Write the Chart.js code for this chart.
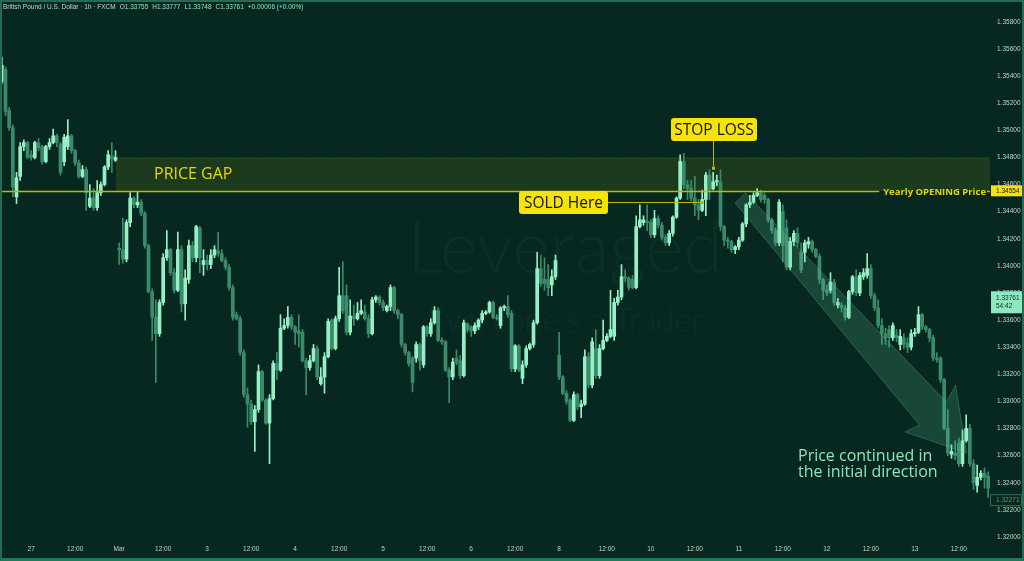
<!DOCTYPE html>
<html>
<head>
<meta charset="utf-8">
<script src="https://cdn.jsdelivr.net/npm/chart.js@4.4.1/dist/chart.umd.min.js"></script>
<style>
    html, body { margin: 0; padding: 0; background: #062820; }
    #wrap { position: relative; width: 1024px; height: 561px; overflow: hidden; }
    #frame {
        position: absolute; left: 0; top: 0; right: 0; bottom: 0;
        box-sizing: border-box; pointer-events: none;
        border: 2px solid #236b52; border-bottom: 3px solid #1f7a56;
    }
</style>
</head>
<body>
<div id="wrap">
    <canvas id="priceChart" width="1024" height="561"></canvas>
    <div id="frame"></div>
</div>
<script>
// GBPUSD 1h candles
const opens = [
    1.3536, 1.3545, 1.3515, 1.3502, 1.3451, 1.3466, 1.3488, 1.3491, 1.3482, 1.3480,
    1.3491, 1.3488, 1.3477, 1.3488, 1.3491, 1.3496, 1.3490, 1.3477, 1.3488, 1.3496,
    1.3485, 1.3476, 1.3466, 1.3471, 1.3444, 1.3450, 1.3443, 1.3454, 1.3460, 1.3473,
    1.3481, 1.3478, 1.3413, 1.3412, 1.3405, 1.3432, 1.3450, 1.3445, 1.3447, 1.3439,
    1.3415, 1.3381, 1.3362, 1.3350, 1.3373, 1.3406, 1.3412, 1.3395, 1.3382, 1.3412,
    1.3372, 1.3390, 1.3415, 1.3406, 1.3428, 1.3401, 1.3404, 1.3401, 1.3408, 1.3411,
    1.3409, 1.3404, 1.3399, 1.3384, 1.3364, 1.3361, 1.3336, 1.3305, 1.3298, 1.3285,
    1.3294, 1.3322, 1.3301, 1.3284, 1.3302, 1.3328, 1.3323, 1.3354, 1.3356, 1.3362,
    1.3355, 1.3352, 1.3351, 1.3330, 1.3325, 1.3330, 1.3339, 1.3313, 1.3318, 1.3333,
    1.3360, 1.3339, 1.3361, 1.3378, 1.3378, 1.3351, 1.3363, 1.3361, 1.3365, 1.3366,
    1.3361, 1.3350, 1.3375, 1.3377, 1.3373, 1.3367, 1.3370, 1.3384, 1.3367, 1.3364,
    1.3342, 1.3336, 1.3332, 1.3332, 1.3342, 1.3327, 1.3355, 1.3350, 1.3358, 1.3367,
    1.3345, 1.3344, 1.3323, 1.3318, 1.3332, 1.3330, 1.3319, 1.3357, 1.3355, 1.3352,
    1.3355, 1.3360, 1.3365, 1.3366, 1.3373, 1.3362, 1.3356, 1.3369, 1.3370, 1.3365,
    1.3324, 1.3341, 1.3317, 1.3327, 1.3339, 1.3342, 1.3358, 1.3398, 1.3390, 1.3390,
    1.3386, 1.3392, 1.3334, 1.3318, 1.3306, 1.3301, 1.3286, 1.3305, 1.3296, 1.3298,
    1.3333, 1.3312, 1.3339, 1.3319, 1.3339, 1.3345, 1.3348, 1.3348, 1.3373, 1.3377,
    1.3392, 1.3391, 1.3390, 1.3384, 1.3429, 1.3432, 1.3433, 1.3432, 1.3423, 1.3435,
    1.3430, 1.3421, 1.3417, 1.3424, 1.3436, 1.3450, 1.3477, 1.3460, 1.3457, 1.3450,
    1.3445, 1.3441, 1.3449, 1.3467, 1.3457, 1.3462, 1.3462, 1.3429, 1.3419, 1.3418,
    1.3412, 1.3414, 1.3419, 1.3431, 1.3445, 1.3447, 1.3452, 1.3454, 1.3452, 1.3449,
    1.3434, 1.3426, 1.3417, 1.3440, 1.3428, 1.3399, 1.3418, 1.3424, 1.3410, 1.3410,
    1.3416, 1.3418, 1.3412, 1.3407, 1.3390, 1.3382, 1.3382, 1.3388, 1.3371, 1.3371,
    1.3369, 1.3362, 1.3381, 1.3392, 1.3380, 1.3392, 1.3393, 1.3398, 1.3378, 1.3369,
    1.3356, 1.3350, 1.3353, 1.3347, 1.3349, 1.3342, 1.3347, 1.3343, 1.3340, 1.3350,
    1.3351, 1.3364, 1.3355, 1.3353, 1.3347, 1.3332, 1.3332, 1.3316, 1.3280, 1.3261,
    1.3262, 1.3269, 1.3254, 1.3271, 1.3280, 1.3254, 1.3238, 1.3244, 1.3247, 1.3245
];
const highs = [
    1.3554, 1.3547, 1.3517, 1.3504, 1.3469, 1.3491, 1.3493, 1.3492, 1.3485, 1.3492,
    1.3494, 1.3489, 1.3489, 1.3494, 1.3501, 1.3497, 1.3491, 1.3497, 1.3508, 1.3497,
    1.3486, 1.3478, 1.3474, 1.3473, 1.3460, 1.3457, 1.3463, 1.3462, 1.3474, 1.3485,
    1.3491, 1.3485, 1.3417, 1.3435, 1.3434, 1.3454, 1.3451, 1.3455, 1.3449, 1.3440,
    1.3416, 1.3383, 1.3375, 1.3375, 1.3409, 1.3426, 1.3413, 1.3398, 1.3425, 1.3415,
    1.3397, 1.3419, 1.3418, 1.3430, 1.3429, 1.3412, 1.3408, 1.3412, 1.3415, 1.3425,
    1.3412, 1.3406, 1.3401, 1.3386, 1.3366, 1.3363, 1.3338, 1.3310, 1.3301, 1.3297,
    1.3327, 1.3323, 1.3302, 1.3305, 1.3330, 1.3336, 1.3364, 1.3361, 1.3370, 1.3364,
    1.3356, 1.3364, 1.3353, 1.3332, 1.3334, 1.3342, 1.3341, 1.3325, 1.3336, 1.3361,
    1.3361, 1.3363, 1.3399, 1.3403, 1.3386, 1.3375, 1.3371, 1.3373, 1.3375, 1.3371,
    1.3364, 1.3377, 1.3378, 1.3378, 1.3375, 1.3371, 1.3386, 1.3385, 1.3368, 1.3365,
    1.3343, 1.3337, 1.3333, 1.3344, 1.3343, 1.3356, 1.3356, 1.3361, 1.3370, 1.3369,
    1.3347, 1.3345, 1.3325, 1.3332, 1.3338, 1.3334, 1.3360, 1.3358, 1.3356, 1.3358,
    1.3361, 1.3367, 1.3367, 1.3374, 1.3374, 1.3364, 1.3370, 1.3371, 1.3378, 1.3367,
    1.3342, 1.3342, 1.3330, 1.3341, 1.3343, 1.3360, 1.3410, 1.3408, 1.3406, 1.3401,
    1.3397, 1.3408, 1.3351, 1.3319, 1.3308, 1.3302, 1.3307, 1.3306, 1.3301, 1.3338,
    1.3336, 1.3347, 1.3353, 1.3342, 1.3360, 1.3350, 1.3382, 1.3376, 1.3382, 1.3401,
    1.3397, 1.3392, 1.3393, 1.3437, 1.3445, 1.3437, 1.3445, 1.3434, 1.3441, 1.3437,
    1.3432, 1.3423, 1.3426, 1.3437, 1.3451, 1.3482, 1.3483, 1.3463, 1.3463, 1.3466,
    1.3449, 1.3456, 1.3469, 1.3471, 1.3469, 1.3467, 1.3471, 1.3430, 1.3421, 1.3419,
    1.3415, 1.3421, 1.3432, 1.3446, 1.3452, 1.3454, 1.3457, 1.3456, 1.3454, 1.3450,
    1.3435, 1.3428, 1.3449, 1.3445, 1.3434, 1.3421, 1.3426, 1.3428, 1.3417, 1.3419,
    1.3421, 1.3419, 1.3413, 1.3409, 1.3391, 1.3386, 1.3395, 1.3390, 1.3376, 1.3373,
    1.3371, 1.3382, 1.3393, 1.3397, 1.3395, 1.3398, 1.3409, 1.3401, 1.3380, 1.3375,
    1.3361, 1.3354, 1.3356, 1.3358, 1.3353, 1.3353, 1.3350, 1.3347, 1.3353, 1.3354,
    1.3370, 1.3365, 1.3356, 1.3354, 1.3349, 1.3336, 1.3333, 1.3317, 1.3294, 1.3268,
    1.3271, 1.3273, 1.3279, 1.3290, 1.3283, 1.3257, 1.3253, 1.3249, 1.3251, 1.3248
];
const lows = [
    1.3534, 1.3511, 1.3500, 1.3451, 1.3446, 1.3463, 1.3485, 1.3479, 1.3478, 1.3479,
    1.3485, 1.3475, 1.3476, 1.3486, 1.3490, 1.3488, 1.3467, 1.3474, 1.3486, 1.3483,
    1.3474, 1.3465, 1.3465, 1.3441, 1.3443, 1.3441, 1.3441, 1.3452, 1.3459, 1.3471,
    1.3469, 1.3477, 1.3401, 1.3402, 1.3403, 1.3429, 1.3443, 1.3443, 1.3437, 1.3413,
    1.3380, 1.3345, 1.3314, 1.3348, 1.3371, 1.3404, 1.3393, 1.3380, 1.3381, 1.3366,
    1.3360, 1.3387, 1.3403, 1.3403, 1.3395, 1.3393, 1.3397, 1.3398, 1.3406, 1.3407,
    1.3403, 1.3397, 1.3382, 1.3360, 1.3360, 1.3334, 1.3303, 1.3281, 1.3283, 1.3263,
    1.3292, 1.3300, 1.3283, 1.3254, 1.3301, 1.3316, 1.3322, 1.3353, 1.3354, 1.3353,
    1.3342, 1.3340, 1.3329, 1.3305, 1.3323, 1.3329, 1.3316, 1.3312, 1.3306, 1.3332,
    1.3338, 1.3338, 1.3359, 1.3365, 1.3349, 1.3349, 1.3356, 1.3360, 1.3364, 1.3360,
    1.3347, 1.3349, 1.3373, 1.3371, 1.3367, 1.3366, 1.3367, 1.3365, 1.3361, 1.3340,
    1.3334, 1.3326, 1.3307, 1.3329, 1.3323, 1.3325, 1.3348, 1.3348, 1.3357, 1.3344,
    1.3342, 1.3322, 1.3299, 1.3316, 1.3327, 1.3317, 1.3318, 1.3351, 1.3348, 1.3350,
    1.3353, 1.3358, 1.3364, 1.3365, 1.3361, 1.3360, 1.3354, 1.3367, 1.3362, 1.3322,
    1.3322, 1.3322, 1.3313, 1.3325, 1.3338, 1.3340, 1.3357, 1.3385, 1.3382, 1.3378,
    1.3378, 1.3390, 1.3316, 1.3305, 1.3298, 1.3285, 1.3285, 1.3294, 1.3288, 1.3297,
    1.3310, 1.3310, 1.3317, 1.3317, 1.3338, 1.3344, 1.3347, 1.3345, 1.3371, 1.3375,
    1.3388, 1.3382, 1.3383, 1.3383, 1.3428, 1.3430, 1.3426, 1.3421, 1.3421, 1.3428,
    1.3419, 1.3415, 1.3415, 1.3422, 1.3435, 1.3449, 1.3457, 1.3449, 1.3448, 1.3437,
    1.3434, 1.3440, 1.3437, 1.3449, 1.3456, 1.3459, 1.3426, 1.3415, 1.3413, 1.3410,
    1.3409, 1.3412, 1.3418, 1.3429, 1.3443, 1.3446, 1.3451, 1.3447, 1.3446, 1.3432,
    1.3424, 1.3415, 1.3415, 1.3403, 1.3397, 1.3397, 1.3415, 1.3414, 1.3395, 1.3403,
    1.3413, 1.3410, 1.3406, 1.3387, 1.3375, 1.3378, 1.3380, 1.3371, 1.3369, 1.3366,
    1.3360, 1.3361, 1.3379, 1.3378, 1.3378, 1.3390, 1.3391, 1.3376, 1.3367, 1.3354,
    1.3342, 1.3342, 1.3340, 1.3345, 1.3344, 1.3338, 1.3339, 1.3336, 1.3338, 1.3348,
    1.3350, 1.3353, 1.3351, 1.3344, 1.3330, 1.3329, 1.3314, 1.3279, 1.3260, 1.3258,
    1.3257, 1.3252, 1.3252, 1.3270, 1.3252, 1.3235, 1.3233, 1.3242, 1.3236, 1.3229
];
const closes = [
    1.3548, 1.3514, 1.3502, 1.3458, 1.3465, 1.3488, 1.3491, 1.3480, 1.3480, 1.3491,
    1.3487, 1.3477, 1.3488, 1.3491, 1.3496, 1.3491, 1.3469, 1.3495, 1.3496, 1.3485,
    1.3476, 1.3466, 1.3471, 1.3454, 1.3450, 1.3443, 1.3454, 1.3460, 1.3473, 1.3482,
    1.3479, 1.3480, 1.3412, 1.3405, 1.3432, 1.3450, 1.3445, 1.3447, 1.3439, 1.3415,
    1.3381, 1.3362, 1.3350, 1.3373, 1.3406, 1.3412, 1.3395, 1.3382, 1.3412, 1.3372,
    1.3391, 1.3415, 1.3406, 1.3429, 1.3406, 1.3404, 1.3401, 1.3408, 1.3412, 1.3409,
    1.3404, 1.3399, 1.3384, 1.3362, 1.3361, 1.3336, 1.3305, 1.3298, 1.3285, 1.3294,
    1.3322, 1.3301, 1.3284, 1.3302, 1.3328, 1.3323, 1.3354, 1.3356, 1.3362, 1.3355,
    1.3351, 1.3350, 1.3330, 1.3325, 1.3330, 1.3339, 1.3318, 1.3318, 1.3333, 1.3359,
    1.3339, 1.3361, 1.3378, 1.3367, 1.3351, 1.3363, 1.3361, 1.3365, 1.3367, 1.3361,
    1.3350, 1.3375, 1.3377, 1.3373, 1.3369, 1.3370, 1.3384, 1.3367, 1.3364, 1.3342,
    1.3336, 1.3328, 1.3314, 1.3342, 1.3330, 1.3355, 1.3350, 1.3358, 1.3367, 1.3345,
    1.3344, 1.3323, 1.3318, 1.3329, 1.3329, 1.3319, 1.3358, 1.3353, 1.3352, 1.3356,
    1.3360, 1.3365, 1.3366, 1.3373, 1.3362, 1.3361, 1.3369, 1.3370, 1.3364, 1.3324,
    1.3341, 1.3323, 1.3327, 1.3339, 1.3342, 1.3358, 1.3398, 1.3387, 1.3387, 1.3384,
    1.3392, 1.3404, 1.3318, 1.3306, 1.3300, 1.3286, 1.3305, 1.3296, 1.3298, 1.3333,
    1.3312, 1.3344, 1.3319, 1.3339, 1.3345, 1.3348, 1.3353, 1.3373, 1.3377, 1.3392,
    1.3391, 1.3384, 1.3384, 1.3429, 1.3434, 1.3434, 1.3432, 1.3423, 1.3435, 1.3430,
    1.3421, 1.3417, 1.3424, 1.3436, 1.3450, 1.3477, 1.3460, 1.3457, 1.3450, 1.3445,
    1.3441, 1.3449, 1.3467, 1.3456, 1.3462, 1.3463, 1.3429, 1.3419, 1.3418, 1.3412,
    1.3414, 1.3419, 1.3431, 1.3445, 1.3447, 1.3452, 1.3454, 1.3449, 1.3449, 1.3434,
    1.3426, 1.3417, 1.3447, 1.3415, 1.3399, 1.3418, 1.3424, 1.3417, 1.3397, 1.3417,
    1.3418, 1.3412, 1.3407, 1.3390, 1.3382, 1.3380, 1.3388, 1.3373, 1.3373, 1.3369,
    1.3362, 1.3381, 1.3392, 1.3380, 1.3393, 1.3395, 1.3398, 1.3378, 1.3369, 1.3356,
    1.3350, 1.3347, 1.3347, 1.3356, 1.3347, 1.3348, 1.3342, 1.3340, 1.3350, 1.3351,
    1.3364, 1.3355, 1.3353, 1.3347, 1.3332, 1.3331, 1.3316, 1.3280, 1.3262, 1.3263,
    1.3260, 1.3254, 1.3271, 1.3280, 1.3254, 1.3240, 1.3244, 1.3247, 1.3244, 1.3236
];

// time axis labels (candle index -> text)
const timeTickIndex = [8, 20, 32, 44, 56, 68, 80, 92, 104, 116, 128, 140, 152, 165, 177, 189, 201, 213, 225, 237, 249, 261];
const timeTickText = ['27', '12:00', 'Mar', '12:00', '3', '12:00', '4', '12:00', '5', '12:00', '6', '12:00', '8', '12:00', '10', '12:00', '11', '12:00', '12', '12:00', '13', '12:00'];

const priceTicks = [1.320, 1.322, 1.324, 1.326, 1.328, 1.330, 1.332, 1.334, 1.336, 1.338,
    1.340, 1.342, 1.344, 1.346, 1.348, 1.350, 1.352, 1.354, 1.356, 1.358];

// levels used by the drawings
const yearlyOpen = 1.34554;
const gapTop = 1.3480;
const gapStartIndex = 31;
const lastPrice = 1.33761;
const lowMark = 1.32271;
const soldAt = { index: 191, price: 1.3447 };
const stopAt = { index: 194, price: 1.3472 };
const arrowPoints = [[202.8, 1.34538], [200.0, 1.34464], [250.3, 1.32826], [246.4, 1.32774],
    [263.1, 1.32619], [260.1, 1.33121], [257.6, 1.32995]];

const BG = '#062820';
const BULL = '#96efc5';
const BEAR = '#3b8b6b';
const YELLOW = '#f4e40a';
const LINE_YELLOW = '#c2b700';

const categories = opens.map((_, i) => {
    const k = timeTickIndex.indexOf(i);
    return k >= 0 ? timeTickText[k] : '';
});
const candleColors = opens.map((o, i) => closes[i] >= o ? BULL : BEAR);
const bodies = opens.map((o, i) => [o, closes[i]]);
const wicks = lows.map((l, i) => [l, highs[i]]);

function labelBox(ctx, text, cx, cy, w, h, font) {
    ctx.fillStyle = YELLOW;
    ctx.beginPath();
    ctx.roundRect(cx - w / 2, cy - h / 2, w, h, 3);
    ctx.fill();
    ctx.fillStyle = '#141400';
    ctx.font = font;
    ctx.textAlign = 'center';
    ctx.textBaseline = 'middle';
    ctx.fillText(text, cx, cy + 1);
}

const drawingsPlugin = {
    id: 'drawings',
    beforeDatasetsDraw(chart) {
        const { ctx, chartArea: a, scales: { x, y } } = chart;
        ctx.save();
        // watermark
        ctx.fillStyle = 'rgba(170, 230, 205, 0.04)';
        ctx.textAlign = 'center';
        ctx.textBaseline = 'alphabetic';
        ctx.font = '300 72px Lato';
        ctx.fillText('Leveraged', 565, 273);
        ctx.font = '300 33px Lato';
        ctx.fillText("Everyone's a Trader", 565, 332);

        // price gap zone
        const gx = x.getPixelForValue(gapStartIndex) + 1;
        const gy1 = y.getPixelForValue(gapTop);
        const gy2 = y.getPixelForValue(yearlyOpen);
        ctx.fillStyle = 'rgba(140, 150, 20, 0.17)';
        ctx.fillRect(gx, gy1, a.right - gx, gy2 - gy1);
        ctx.strokeStyle = 'rgba(170, 170, 60, 0.35)';
        ctx.lineWidth = 1;
        ctx.setLineDash([1, 2]);
        ctx.beginPath();
        ctx.moveTo(gx + 0.5, gy2);
        ctx.lineTo(gx + 0.5, gy1 + 0.5);
        ctx.lineTo(a.right, gy1 + 0.5);
        ctx.stroke();
        ctx.setLineDash([]);
        ctx.restore();
    },
    afterDatasetsDraw(chart) {
        const { ctx, chartArea: a, scales: { x, y } } = chart;
        ctx.save();

        // trend arrow
        ctx.beginPath();
        arrowPoints.forEach(([i, p], k) => {
            const px = x.getPixelForValue(i), py = y.getPixelForValue(p);
            if (k === 0) ctx.moveTo(px, py); else ctx.lineTo(px, py);
        });
        ctx.closePath();
        ctx.fillStyle = 'rgba(100, 190, 150, 0.2)';
        ctx.fill();
        ctx.strokeStyle = 'rgba(120, 200, 160, 0.3)';
        ctx.lineWidth = 1;
        ctx.stroke();

        // yearly opening line + caption
        const yo = Math.round(y.getPixelForValue(yearlyOpen)) + 0.5;
        ctx.font = 'bold 9.5px "Open Sans"';
        const cap = 'Yearly OPENING Price';
        const capW = ctx.measureText(cap).width;
        const capX = a.right - 4 - capW;
        ctx.strokeStyle = LINE_YELLOW;
        ctx.lineWidth = 1.6;
        ctx.beginPath();
        ctx.moveTo(a.left, yo);
        ctx.lineTo(capX - 4, yo);
        ctx.moveTo(a.right - 3, yo);
        ctx.lineTo(a.right, yo);
        ctx.stroke();
        ctx.fillStyle = '#e6d700';
        ctx.textAlign = 'left';
        ctx.textBaseline = 'middle';
        ctx.fillText(cap, capX, yo + 1);

        // PRICE GAP caption
        ctx.font = '16px "Open Sans"';
        ctx.fillStyle = '#e8d800';
        ctx.textBaseline = 'alphabetic';
        ctx.fillText('PRICE GAP', 154, 179);

        // SOLD Here
        const sx = x.getPixelForValue(soldAt.index);
        const sy = Math.round(y.getPixelForValue(soldAt.price)) + 0.5;
        ctx.strokeStyle = LINE_YELLOW;
        ctx.lineWidth = 1;
        ctx.beginPath();
        ctx.moveTo(608, sy);
        ctx.lineTo(sx, sy);
        ctx.stroke();
        ctx.fillStyle = LINE_YELLOW;
        ctx.fillRect(sx - 1.5, sy - 1.5, 3, 3);
        labelBox(ctx, 'SOLD Here', 563.5, 202.5, 89, 23, '15.5px "Open Sans"');

        // STOP LOSS
        const lx = Math.round(x.getPixelForValue(stopAt.index)) + 0.5;
        const ly = y.getPixelForValue(stopAt.price);
        ctx.strokeStyle = LINE_YELLOW;
        ctx.beginPath();
        ctx.moveTo(lx, 141);
        ctx.lineTo(lx, ly);
        ctx.stroke();
        ctx.fillStyle = LINE_YELLOW;
        ctx.fillRect(lx - 1.5, ly - 1.5, 3, 3);
        labelBox(ctx, 'STOP LOSS', 714, 129.5, 86, 23, '15.5px "Open Sans"');

        // note
        ctx.font = '16px "Open Sans"';
        ctx.fillStyle = '#8fe3b6';
        ctx.textAlign = 'left';
        ctx.textBaseline = 'alphabetic';
        ctx.fillText('Price continued in', 798, 461);
        ctx.fillText('the initial direction', 798, 477);
        ctx.restore();
    },
    afterDraw(chart) {
        const { ctx, chartArea: a, scales: { y } } = chart;
        ctx.save();
        ctx.font = '6.5px "Liberation Sans"';
        ctx.textBaseline = 'middle';
        ctx.textAlign = 'left';

        // price axis badges
        const yo = y.getPixelForValue(yearlyOpen);
        ctx.fillStyle = YELLOW;
        ctx.fillRect(a.right + 1, yo - 5.5, 31, 11);
        ctx.fillStyle = '#111';
        ctx.fillText(yearlyOpen.toFixed(5), a.right + 6, yo);

        const yl = y.getPixelForValue(lastPrice);
        ctx.fillStyle = '#8fe8bf';
        ctx.fillRect(a.right + 1, yl - 7, 31, 22);
        ctx.fillStyle = '#0b2b22';
        ctx.fillText(lastPrice.toFixed(5), a.right + 6, yl);
        ctx.fillText('54:42', a.right + 6, yl + 8);

        const ym = y.getPixelForValue(lowMark);
        ctx.fillStyle = BG;
        ctx.fillRect(a.right + 0.5, ym - 5.5, 31, 11);
        ctx.strokeStyle = '#2f6f57';
        ctx.lineWidth = 1;
        ctx.strokeRect(a.right + 0.5, ym - 5.5, 31, 11);
        ctx.fillStyle = '#5d947e';
        ctx.fillText(lowMark.toFixed(5), a.right + 6, ym);

        // symbol legend
        let tx = 3;
        const ty = 7.5;
        const part = (text, color, gap) => {
            ctx.fillStyle = color;
            ctx.fillText(text, tx, ty);
            tx += ctx.measureText(text).width + (gap || 0);
        };
        part('British Pound / U.S. Dollar · 1h · FXCM', '#c9d2ce', 4);
        part('O', '#c9d2ce'); part('1.33755', '#8fe0b8', 4);
        part('H', '#c9d2ce'); part('1.33777', '#8fe0b8', 4);
        part('L', '#c9d2ce'); part('1.33748', '#8fe0b8', 4);
        part('C', '#c9d2ce'); part('1.33761', '#8fe0b8', 4);
        part('+0.00006 (+0.00%)', '#8fe0b8');
        ctx.restore();
    }
};

const ctx = document.getElementById('priceChart');
const priceChart = new Chart(ctx, {
    type: 'bar',
    data: {
        labels: categories,
        datasets: [
            {
                label: 'body',
                data: bodies,
                backgroundColor: candleColors,
                barThickness: 3,
                minBarLength: 1,
                grouped: false,
                order: 0
            },
            {
                label: 'wick',
                data: wicks,
                backgroundColor: candleColors,
                barThickness: 1,
                grouped: false,
                order: 1
            }
        ]
    },
    options: {
        responsive: false,
        animation: false,
        devicePixelRatio: 1,
        layout: { padding: 0 },
        plugins: {
            legend: { display: false },
            tooltip: { enabled: false }
        },
        scales: {
            x: {
                grid: { display: false, drawTicks: false },
                border: { display: false },
                ticks: {
                    autoSkip: false,
                    maxRotation: 0,
                    padding: 7,
                    color: '#c6cfcb',
                    font: { family: 'Liberation Sans', size: 6.5 }
                },
                afterFit: s => {
                    s.height = 23;
                    s.paddingLeft = 0;
                    s.paddingRight = 0;
                }
            },
            y: {
                position: 'right',
                min: 1.31992,
                max: 1.35962,
                grid: { display: false, drawTicks: false },
                border: { display: false },
                afterBuildTicks: axis => {
                    axis.ticks = priceTicks.map(v => ({ value: v }));
                },
                ticks: {
                    padding: 7,
                    color: '#c6cfcb',
                    font: { family: 'Liberation Sans', size: 6.5 },
                    callback: v => v.toFixed(5)
                },
                afterFit: s => {
                    s.width = 34;
                    s.paddingTop = 0;
                    s.paddingBottom = 0;
                }
            }
        }
    },
    plugins: [drawingsPlugin]
});
</script>
</body>
</html>
